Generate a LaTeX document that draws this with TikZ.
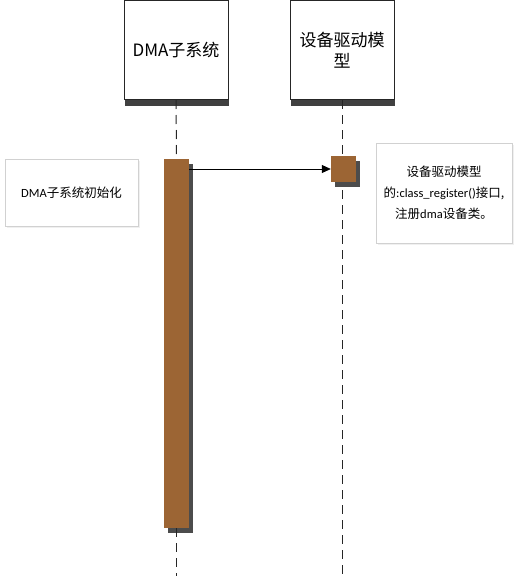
\documentclass[tikz,border=0pt]{standalone}
\usepackage{fontspec}
\setmainfont{Carlito}
\newfontfamily\cjk{Noto Sans CJK SC}
\usetikzlibrary{arrows.meta,shadows}
\definecolor{actbrown}{RGB}{156,101,52}
\tikzset{
	headbox/.style={draw=black!85, line width=1pt, fill=white, minimum width=104pt, minimum height=99pt, inner sep=0pt, align=center, font=\cjk\fontsize{17}{21}\selectfont, general shadow={fill=black!75, shadow xshift=0.5pt, shadow yshift=-6pt}},
	lifeline/.style={black!85, line width=1pt, dash pattern=on 9pt off 6pt},
	actbar/.style={draw=none, fill=actbrown, minimum width=25pt, inner sep=0pt, general shadow={fill=black!70, shadow xshift=4pt, shadow yshift=-5pt}},
	notebox/.style={draw=black!18, fill=white, inner sep=0pt, align=center, font=\fontsize{12.5}{21}\selectfont, general shadow={fill=black!6, shadow xshift=2pt, shadow yshift=-2pt}},
	msg/.style={-{Triangle[length=9pt,width=8pt]}, line width=0.8pt, black},
}
\begin{document}
\begin{tikzpicture}[x=1pt,y=-1pt]
			\useasboundingbox (0,0) rectangle (516,576);
			\node	(dma) at (176,50) [headbox] {DMA子系统};
			\node	(dev) at (342,50) [headbox] {设备驱动模\\型};
			\node	(act1) at (176.5,343.5) [actbar, minimum height=369pt] {};
			\coordinate (dmaend) at (176.5,576);
			\coordinate (devend) at (342,576);
			
			\draw[lifeline] (dma.south) -- (act1.north);
			\draw[lifeline] (act1.south) -- (dmaend);
			\draw[lifeline] (dev.south) -- (devend);
			
			\node	(act2) at (343.5,169) [actbar, minimum height=26pt] {};
			\draw[msg] (act1.east |- act2.west) -- (act2.west);
			
			\node	(init) at (71.5,192.5) [notebox, minimum width=133pt, minimum height=67pt] {DMA{\cjk 子系统初始化}};
			\node	(reg) at (444,193) [notebox, minimum width=136pt, minimum height=100pt] {{\cjk 设备驱动模型}\\{\cjk 的}:class\_register(){\cjk 接口,}\\{\cjk 注册}dma{\cjk 设备类。}};
\end{tikzpicture}
\end{document}
